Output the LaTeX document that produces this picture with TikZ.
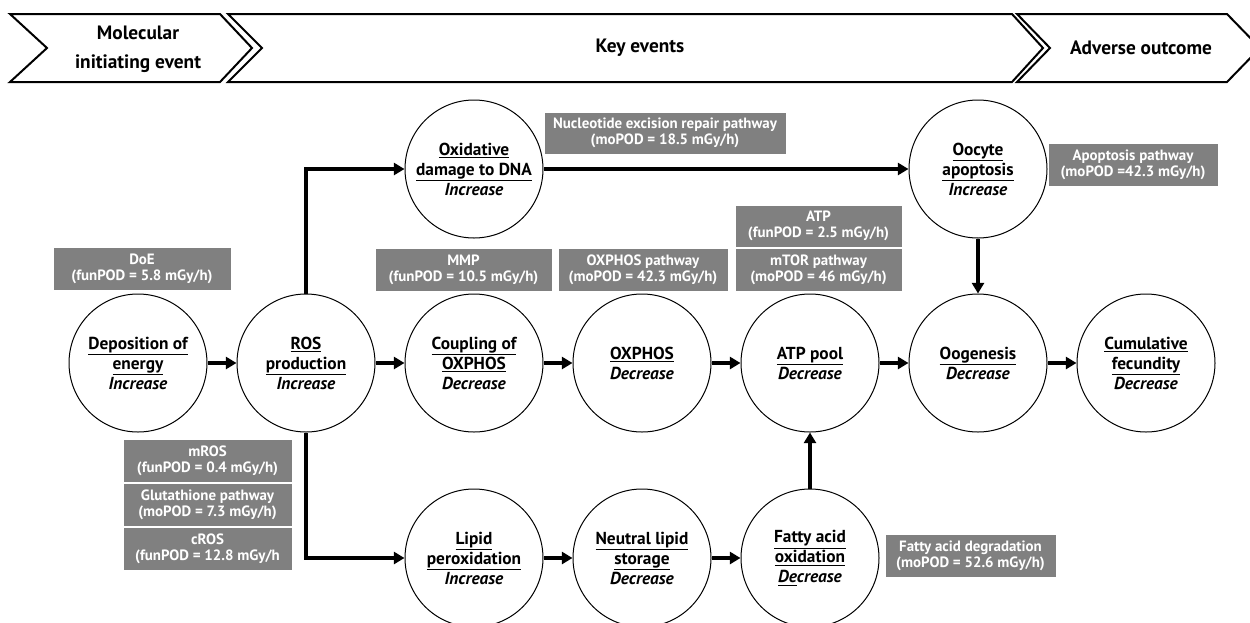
\documentclass[tikz,border=0pt]{standalone}
\usepackage{fontspec}
\setmainfont{PT Sans}
\usetikzlibrary{arrows.meta}
\definecolor{boxgray}{RGB}{128,128,128}
\tikzset{
  evt/.style={circle, draw, line width=0.75pt, minimum size=103.5pt, inner sep=0pt, align=center, font=\fontsize{13}{15}\selectfont\bfseries},
  gbox/.style={fill=boxgray, draw=white, line width=0.75pt, inner sep=0pt, text=white, align=center, minimum height=32.25pt, font=\fontsize{11.2}{12.2}\selectfont\bfseries},
  arr/.style={line width=2.6pt, -{Triangle[length=8pt,width=9pt]}},
  chev/.style={draw, line width=1.5pt, line join=miter},
  head/.style={font=\fontsize{14.5}{21.5}\selectfont\bfseries, align=center}
}
\begin{document}
\begin{tikzpicture}[x=0.75pt,y=-0.75pt]
\useasboundingbox (0,0) rectangle (1250,622);
\clip (0,0) rectangle (1250,622);
\fill[white] (0,0) rectangle (1250,622);
% header chevrons
\draw[chev] (10,14) -- (220,14) -- (252,48) -- (220,82) -- (10,82) -- (47,48) -- cycle;
\draw[chev] (228,14) -- (1012,14) -- (1043,48) -- (1012,82) -- (228,82) -- (262,48) -- cycle;
\draw[chev] (1017,14) -- (1227,14) -- (1260,48) -- (1227,82) -- (1017,82) -- (1050,48) -- cycle;
\node[head] (h1) at (138,49) {Molecular\\initiating event};
\node[head] (h2) at (640,48) {Key events};
\node[head] (h3) at (1141,48) {Adverse outcome};
% events
\node[evt] (dep) at (138,363) {\underline{Deposition of}\\\underline{energy}\\\textit{Increase}};
\node[evt] (ros) at (306,363) {\underline{ROS}\\\underline{production}\\\textit{Increase}};
\node[evt] (cop) at (474,363) {\underline{Coupling of}\\\underline{OXPHOS}\\\textit{Decrease}};
\node[evt] (oxp) at (642,363) {\underline{OXPHOS}\\\textit{Decrease}};
\node[evt] (atp) at (810,363) {\underline{ATP pool}\\\textit{Decrease}};
\node[evt] (oog) at (978,363) {\underline{Oogenesis}\\\textit{Decrease}};
\node[evt] (cum) at (1146,363) {\underline{Cumulative}\\\underline{fecundity}\\\textit{Decrease}};
\node[evt] (ox) at (474,169) {\underline{Oxidative}\\\underline{damage to DNA}\\\textit{Increase}};
\node[evt] (ooc) at (978,169) {\underline{Oocyte}\\\underline{apoptosis}\\\textit{Increase}};
\node[evt] (lip) at (474,558) {\underline{Lipid}\\\underline{peroxidation}\\\textit{Increase}};
\node[evt] (nls) at (642,558) {\underline{Neutral lipid}\\\underline{storage}\\\textit{Decrease}};
\node[evt] (fao) at (810,558) {\underline{Fatty acid}\\\underline{oxidation}\\\textit{\underline{De}crease}};
% gray boxes
\node[gbox, minimum width=133.5pt] (bdoe) at (142,268.5) {DoE\\(funPOD = 5.8 mGy/h)};
\node[gbox, minimum width=126.75pt] (bmros) at (207.5,460.5) {mROS\\(funPOD = 0.4 mGy/h)};
\node[gbox, minimum width=126.75pt] (bglu) at (207.5,504.5) {Glutathione pathway\\(moPOD = 7.3 mGy/h)};
\node[gbox, minimum width=126.75pt] (bcros) at (207.5,548.5) {cROS\\(funPOD = 12.8 mGy/h};
\node[gbox, minimum width=181.5pt, minimum height=31.5pt] (bner) at (665,133) {Nucleotide excision repair pathway\\(moPOD = 18.5 mGy/h)};
\node[gbox, minimum width=132.75pt] (bmmp) at (463.5,269.5) {MMP\\(funPOD = 10.5 mGy/h)};
\node[gbox, minimum width=127.5pt] (boxp) at (643,269.5) {OXPHOS pathway\\(moPOD = 42.3 mGy/h)};
\node[gbox, minimum width=125.25pt, minimum height=31.5pt] (batp) at (818.5,226) {ATP\\(funPOD = 2.5 mGy/h)};
\node[gbox, minimum width=125.25pt] (bmtor) at (818.5,269.5) {mTOR pathway\\(moPOD = 46 mGy/h)};
\node[gbox, minimum width=127.5pt] (bapo) at (1133,164.5) {Apoptosis pathway\\(moPOD =42.3 mGy/h)};
\node[gbox, minimum width=128.25pt] (bfad) at (970.5,555.5) {Fatty acid degradation\\(moPOD = 52.6 mGy/h)};
% connectors
\draw[arr] (dep) -- (ros);
\draw[arr] (ros) -- (cop);
\draw[arr] (cop) -- (oxp);
\draw[arr] (oxp) -- (atp);
\draw[arr] (atp) -- (oog);
\draw[arr] (oog) -- (cum);
\draw[arr] (ros) |- (ox);
\draw[arr] (ros) |- (lip);
\draw[arr] (ox) -- (ooc);
\draw[arr] (ooc) -- (oog);
\draw[arr] (nls) -- (fao);
\draw[arr] (lip) -- (nls);
\draw[arr] (fao) -- (atp);
\end{tikzpicture}
\end{document}
